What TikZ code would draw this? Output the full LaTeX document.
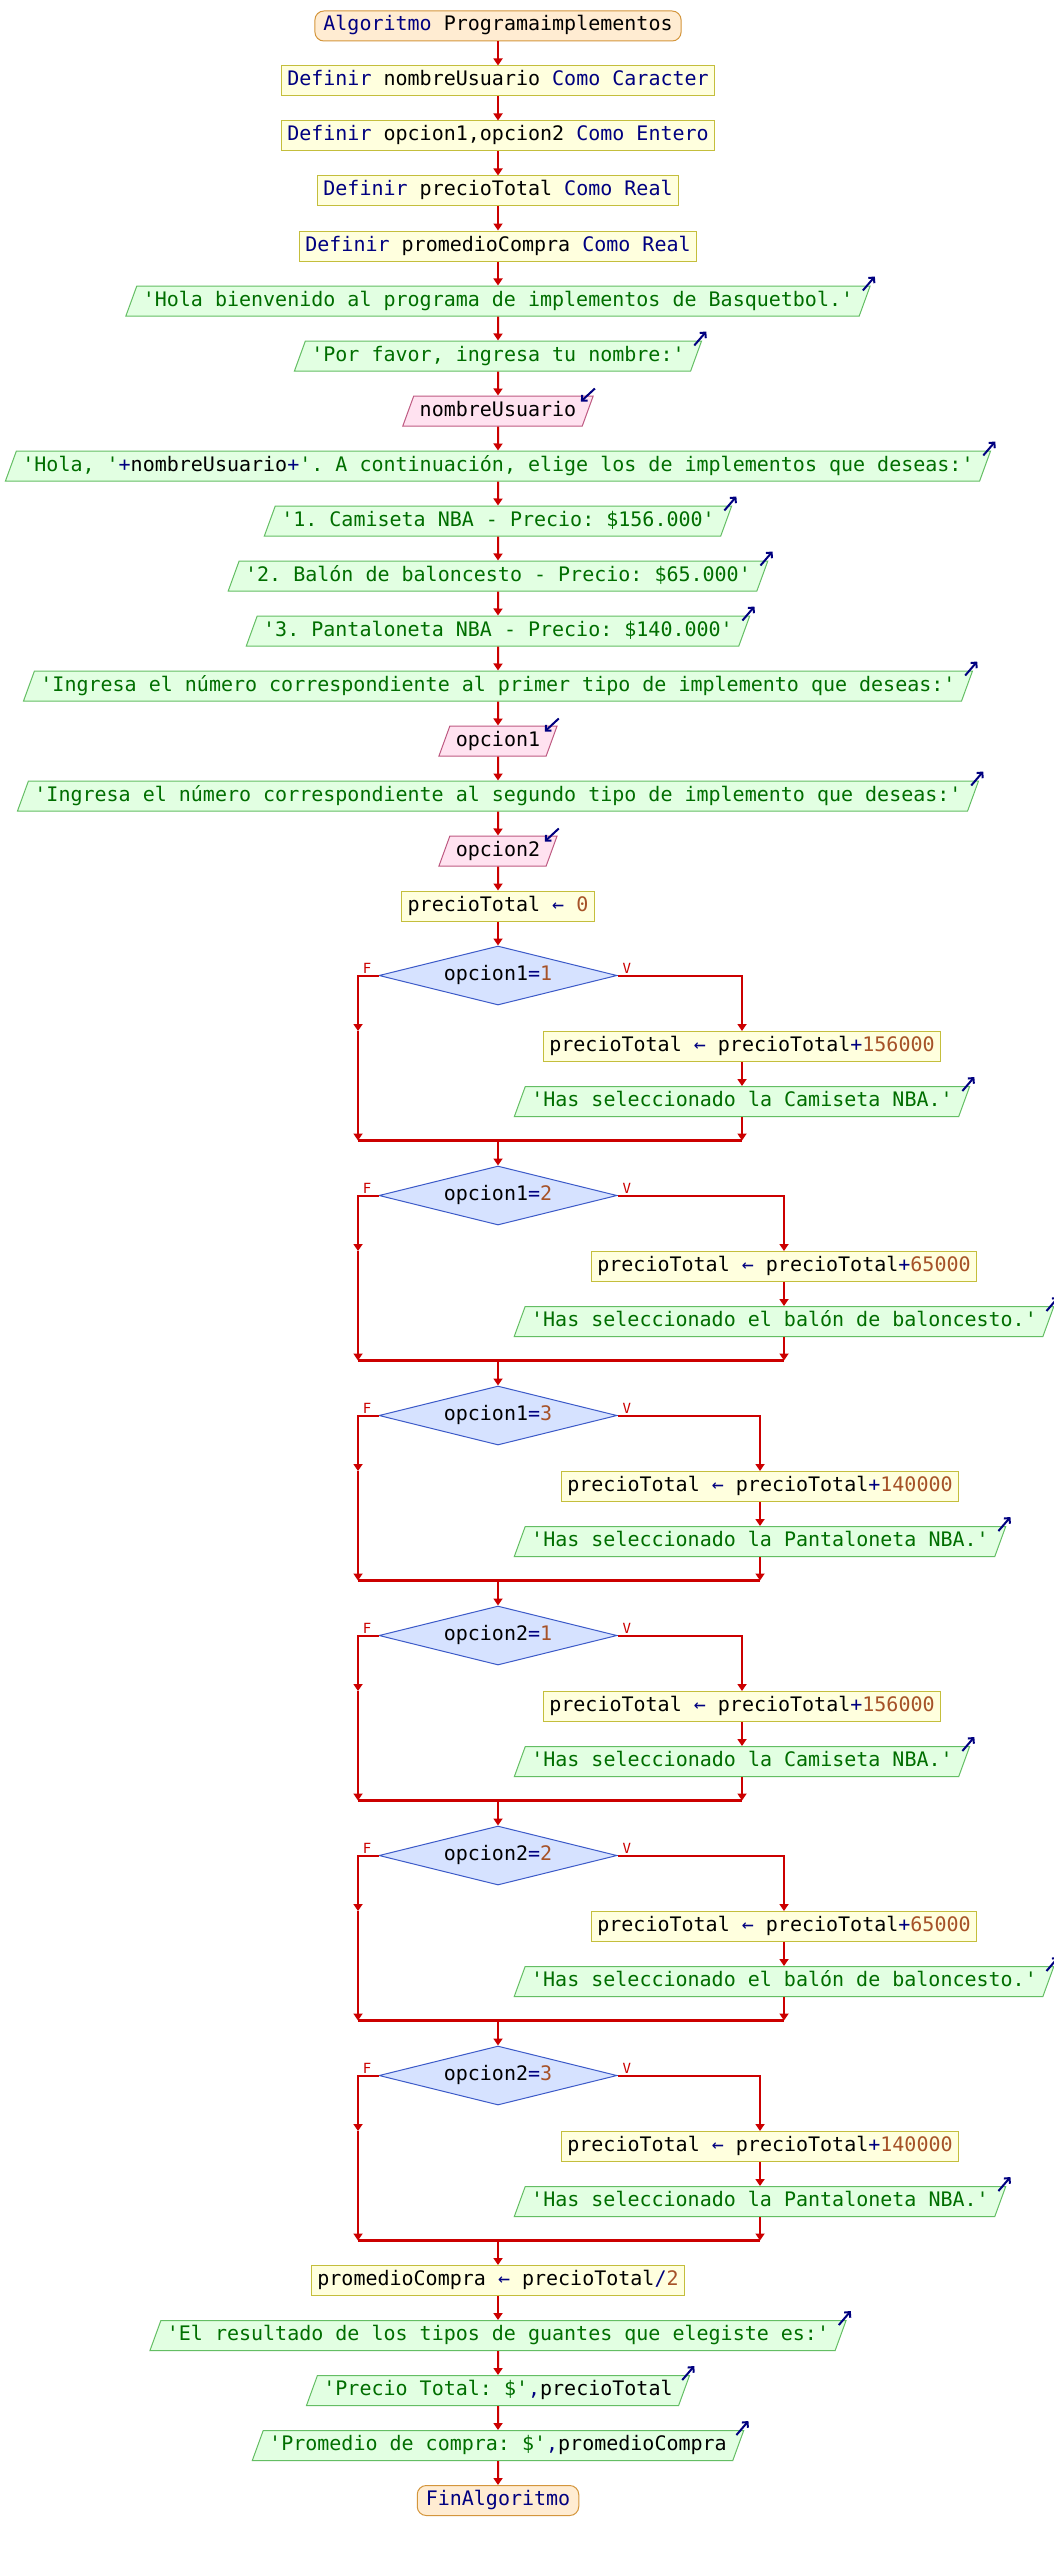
\documentclass[tikz,border=0pt]{standalone}
\usepackage{fontspec}
\setmonofont{DejaVu Sans Mono}
\usetikzlibrary{shapes.geometric, arrows.meta, positioning}

\definecolor{linea}{RGB}{204,0,0}
\definecolor{azul}{RGB}{0,0,128}
\definecolor{numero}{RGB}{166,82,40}
\definecolor{verde}{RGB}{0,110,0}
\definecolor{termfondo}{RGB}{255,236,210}
\definecolor{termborde}{RGB}{212,150,60}
\definecolor{procfondo}{RGB}{255,255,222}
\definecolor{procborde}{RGB}{196,190,60}
\definecolor{salfondo}{RGB}{226,255,226}
\definecolor{salborde}{RGB}{100,190,100}
\definecolor{entfondo}{RGB}{255,226,240}
\definecolor{entborde}{RGB}{190,90,130}
\definecolor{decfondo}{RGB}{214,226,255}
\definecolor{decborde}{RGB}{60,90,200}

\newcommand{\kw}[1]{\textcolor{azul}{#1}}
\newcommand{\nm}[1]{\textcolor{numero}{#1}}
\newcommand{\vr}[1]{\textcolor{black}{#1}}

\tikzset{
  caja/.style={draw, line width=1pt, font=\ttfamily\fontsize{20pt}{24pt}\selectfont,
    text height=15pt, text depth=5pt, inner ysep=5pt, inner xsep=6pt},
  terminal/.style={caja, rectangle, rounded corners=9pt, fill=termfondo, draw=termborde,
    text=azul, inner xsep=8.5pt},
  proceso/.style={caja, rectangle, fill=procfondo, draw=procborde},
  io/.style={caja, trapezium, trapezium left angle=70, trapezium right angle=110},
  salida/.style={io, fill=salfondo, draw=salborde, text=verde,
    append after command={([shift={(-8,5)}]\tikzlastnode.top right corner)
      edge[marca] ([shift={(4,-9)}]\tikzlastnode.top right corner)}},
  entrada/.style={io, fill=entfondo, draw=entborde,
    append after command={([shift={(1,-7)}]\tikzlastnode.top right corner)
      edge[marca] ([shift={(-13,6)}]\tikzlastnode.top right corner)}},
  decision/.style={caja, diamond, aspect=4, fill=decfondo, draw=decborde, inner sep=0pt,
    minimum width=238pt, minimum height=59pt},
  marca/.style={draw=azul, line width=2pt, -{Straight Barb[length=4pt,width=8pt]}},
  flecha/.style={draw=linea, line width=2pt, -{Triangle[length=7pt,width=9pt]}},
  union/.style={draw=linea, line width=3pt},
  etiq/.style={text=linea, inner sep=0pt, font=\ttfamily\fontsize{14pt}{16pt}\selectfont}
}

\begin{document}
\begin{tikzpicture}[x=1pt, y=-1pt]

\path [fill=white, use as bounding box] (0,0) rectangle (1054,2550);

\node [terminal] (ini) at (498, 26) {Algoritmo \vr{Programaimplementos}};
\node [proceso] (def1) at (498, 81) {\kw{Definir} nombreUsuario \kw{Como Caracter}};
\node [proceso] (def2) at (498, 136) {\kw{Definir} opcion1,opcion2 \kw{Como Entero}};
\node [proceso] (def3) at (498, 191) {\kw{Definir} precioTotal \kw{Como Real}};
\node [proceso] (def4) at (498, 246) {\kw{Definir} promedioCompra \kw{Como Real}};
\node [salida] (bienv) at (498, 301) {'Hola bienvenido al programa de implementos de Basquetbol.'};
\node [salida] (pide) at (498, 356) {'Por favor, ingresa tu nombre:'};
\node [entrada] (nombre) at (498, 411) {nombreUsuario};
\node [salida] (saludo) at (498, 466) {'Hola, '\kw{+}\vr{nombreUsuario}\kw{+}'. A continuación, elige los de implementos que deseas:'};
\node [salida] (item1) at (498, 521) {'1. Camiseta NBA - Precio: \$156.000'};
\node [salida] (item2) at (498, 576) {'2. Balón de baloncesto - Precio: \$65.000'};
\node [salida] (item3) at (498, 631) {'3. Pantaloneta NBA - Precio: \$140.000'};
\node [salida] (pide1) at (498, 686) {'Ingresa el número correspondiente al primer tipo de implemento que deseas:'};
\node [entrada] (op1) at (498, 741) {opcion1};
\node [salida] (pide2) at (498, 796) {'Ingresa el número correspondiente al segundo tipo de implemento que deseas:'};
\node [entrada] (op2) at (498, 851) {opcion2};
\node [proceso] (total0) at (498, 906) {precioTotal \kw{←} \nm{0}};

% opcion1=1
\node [decision] (c1) at (498, 975.5) {opcion1\kw{=}\nm{1}};
\node [etiq, above left=2pt and 7pt of c1.west] (lf1) {F};
\node [etiq, above right=2pt and 5pt of c1.east] (lv1) {V};
\node [proceso] (p1) at (742, 1046.5) {precioTotal \kw{←} precioTotal\kw{+}\nm{156000}};
\node [salida] (s1) at (742, 1101.5) {'Has seleccionado la Camiseta NBA.'};
\coordinate (f1) at (358, 1140.5);
\coordinate (j1) at (498, 1140.5);

% opcion1=2
\node [decision] (c2) at (498, 1195.5) {opcion1\kw{=}\nm{2}};
\node [etiq, above left=2pt and 7pt of c2.west] (lf2) {F};
\node [etiq, above right=2pt and 5pt of c2.east] (lv2) {V};
\node [proceso] (p2) at (784, 1266.5) {precioTotal \kw{←} precioTotal\kw{+}\nm{65000}};
\node [salida] (s2) at (784, 1321.5) {'Has seleccionado el balón de baloncesto.'};
\coordinate (f2) at (358, 1360.5);
\coordinate (j2) at (498, 1360.5);

% opcion1=3
\node [decision] (c3) at (498, 1415.5) {opcion1\kw{=}\nm{3}};
\node [etiq, above left=2pt and 7pt of c3.west] (lf3) {F};
\node [etiq, above right=2pt and 5pt of c3.east] (lv3) {V};
\node [proceso] (p3) at (760, 1486.5) {precioTotal \kw{←} precioTotal\kw{+}\nm{140000}};
\node [salida] (s3) at (760, 1541.5) {'Has seleccionado la Pantaloneta NBA.'};
\coordinate (f3) at (358, 1580.5);
\coordinate (j3) at (498, 1580.5);

% opcion2=1
\node [decision] (c4) at (498, 1635.5) {opcion2\kw{=}\nm{1}};
\node [etiq, above left=2pt and 7pt of c4.west] (lf4) {F};
\node [etiq, above right=2pt and 5pt of c4.east] (lv4) {V};
\node [proceso] (p4) at (742, 1706.5) {precioTotal \kw{←} precioTotal\kw{+}\nm{156000}};
\node [salida] (s4) at (742, 1761.5) {'Has seleccionado la Camiseta NBA.'};
\coordinate (f4) at (358, 1800.5);
\coordinate (j4) at (498, 1800.5);

% opcion2=2
\node [decision] (c5) at (498, 1855.5) {opcion2\kw{=}\nm{2}};
\node [etiq, above left=2pt and 7pt of c5.west] (lf5) {F};
\node [etiq, above right=2pt and 5pt of c5.east] (lv5) {V};
\node [proceso] (p5) at (784, 1926.5) {precioTotal \kw{←} precioTotal\kw{+}\nm{65000}};
\node [salida] (s5) at (784, 1981.5) {'Has seleccionado el balón de baloncesto.'};
\coordinate (f5) at (358, 2020.5);
\coordinate (j5) at (498, 2020.5);

% opcion2=3
\node [decision] (c6) at (498, 2075.5) {opcion2\kw{=}\nm{3}};
\node [etiq, above left=2pt and 7pt of c6.west] (lf6) {F};
\node [etiq, above right=2pt and 5pt of c6.east] (lv6) {V};
\node [proceso] (p6) at (760, 2146.5) {precioTotal \kw{←} precioTotal\kw{+}\nm{140000}};
\node [salida] (s6) at (760, 2201.5) {'Has seleccionado la Pantaloneta NBA.'};
\coordinate (f6) at (358, 2240.5);
\coordinate (j6) at (498, 2240.5);

\node [proceso] (prom) at (498, 2280.5) {promedioCompra \kw{←} precioTotal\kw{/}\nm{2}};
\node [salida] (res) at (498, 2335.5) {'El resultado de los tipos de guantes que elegiste es:'};
\node [salida] (vtot) at (498, 2390.5) {'Precio Total: \$'\kw{,}\vr{precioTotal}};
\node [salida] (vprom) at (498, 2445.5) {'Promedio de compra: \$'\kw{,}\vr{promedioCompra}};
\node [terminal] (fin) at (498, 2500.5) {FinAlgoritmo};

\draw [flecha] (ini) -- (def1);
\draw [flecha] (def1) -- (def2);
\draw [flecha] (def2) -- (def3);
\draw [flecha] (def3) -- (def4);
\draw [flecha] (def4) -- (bienv);
\draw [flecha] (bienv) -- (pide);
\draw [flecha] (pide) -- (nombre);
\draw [flecha] (nombre) -- (saludo);
\draw [flecha] (saludo) -- (item1);
\draw [flecha] (item1) -- (item2);
\draw [flecha] (item2) -- (item3);
\draw [flecha] (item3) -- (pide1);
\draw [flecha] (pide1) -- (op1);
\draw [flecha] (op1) -- (pide2);
\draw [flecha] (pide2) -- (op2);
\draw [flecha] (op2) -- (total0);
\draw [flecha] (total0) -- (c1);

\draw [flecha] (c1.east) -| (p1.north);
\draw [flecha] (c1.west) -| (f1 |- p1.north);
\draw [flecha] (f1 |- p1.north) -- (f1);
\draw [flecha] (p1) -- (s1);
\draw [flecha] (s1) -- (s1 |- f1);
\draw [union] (f1) -- (s1 |- f1);
\draw [flecha] (j1) -- (c2);

\draw [flecha] (c2.east) -| (p2.north);
\draw [flecha] (c2.west) -| (f2 |- p2.north);
\draw [flecha] (f2 |- p2.north) -- (f2);
\draw [flecha] (p2) -- (s2);
\draw [flecha] (s2) -- (s2 |- f2);
\draw [union] (f2) -- (s2 |- f2);
\draw [flecha] (j2) -- (c3);

\draw [flecha] (c3.east) -| (p3.north);
\draw [flecha] (c3.west) -| (f3 |- p3.north);
\draw [flecha] (f3 |- p3.north) -- (f3);
\draw [flecha] (p3) -- (s3);
\draw [flecha] (s3) -- (s3 |- f3);
\draw [union] (f3) -- (s3 |- f3);
\draw [flecha] (j3) -- (c4);

\draw [flecha] (c4.east) -| (p4.north);
\draw [flecha] (c4.west) -| (f4 |- p4.north);
\draw [flecha] (f4 |- p4.north) -- (f4);
\draw [flecha] (p4) -- (s4);
\draw [flecha] (s4) -- (s4 |- f4);
\draw [union] (f4) -- (s4 |- f4);
\draw [flecha] (j4) -- (c5);

\draw [flecha] (c5.east) -| (p5.north);
\draw [flecha] (c5.west) -| (f5 |- p5.north);
\draw [flecha] (f5 |- p5.north) -- (f5);
\draw [flecha] (p5) -- (s5);
\draw [flecha] (s5) -- (s5 |- f5);
\draw [union] (f5) -- (s5 |- f5);
\draw [flecha] (j5) -- (c6);

\draw [flecha] (c6.east) -| (p6.north);
\draw [flecha] (c6.west) -| (f6 |- p6.north);
\draw [flecha] (f6 |- p6.north) -- (f6);
\draw [flecha] (p6) -- (s6);
\draw [flecha] (s6) -- (s6 |- f6);
\draw [union] (f6) -- (s6 |- f6);
\draw [flecha] (j6) -- (prom);

\draw [flecha] (prom) -- (res);
\draw [flecha] (res) -- (vtot);
\draw [flecha] (vtot) -- (vprom);
\draw [flecha] (vprom) -- (fin);

\end{tikzpicture}
\end{document}
